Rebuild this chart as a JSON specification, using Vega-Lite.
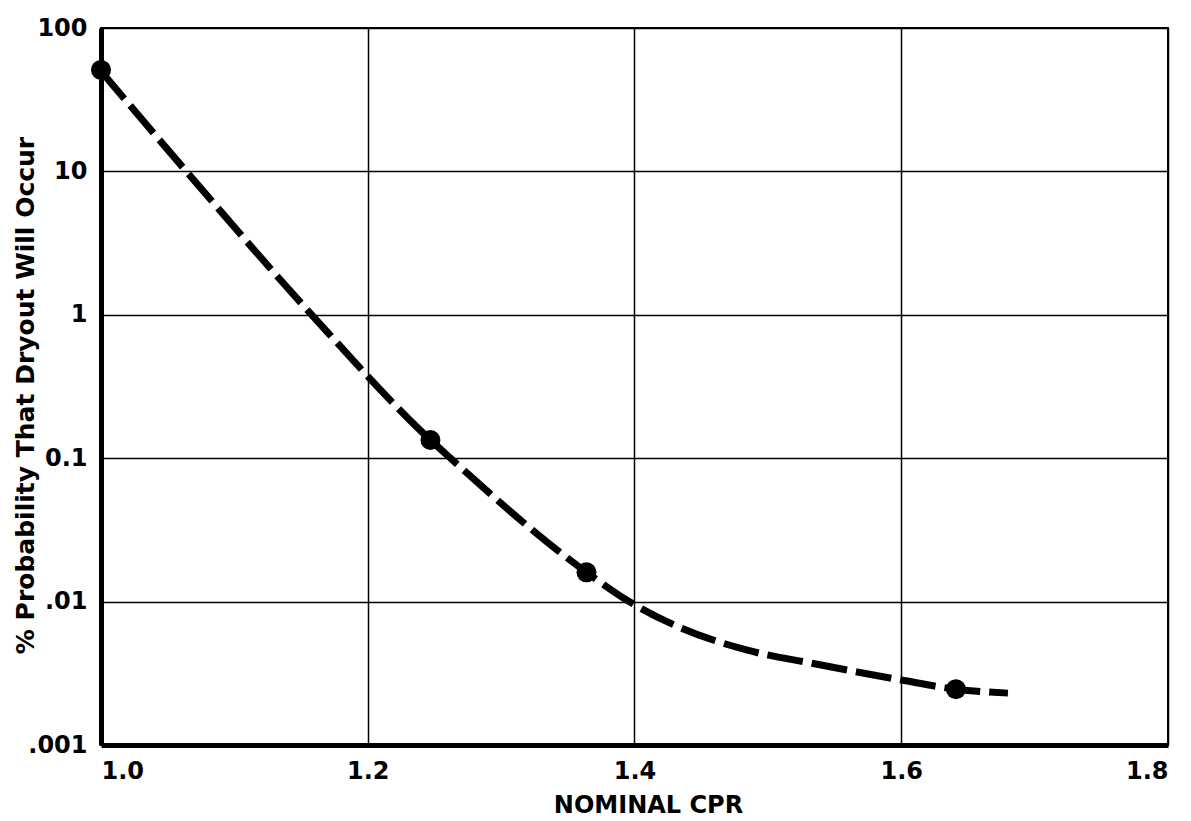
{
  "$schema": "https://vega.github.io/schema/vega-lite/v6.json",
  "width": 1067,
  "height": 717,
  "autosize": {"type": "none"},
  "padding": {"left": 101, "top": 28, "right": 23, "bottom": 76},
  "background": "white",
  "config": {
    "view": {"stroke": "black", "strokeWidth": 2},
    "font": "DejaVu Sans",
    "axis": {
      "labelFont": "DejaVu Sans",
      "labelFontWeight": "bold",
      "labelFontSize": 24,
      "labelColor": "black",
      "titleFont": "DejaVu Sans",
      "titleFontWeight": "bold",
      "titleColor": "black",
      "gridColor": "black",
      "gridOpacity": 1,
      "gridWidth": 1.5,
      "domainColor": "black",
      "domainWidth": 5,
      "ticks": false,
      "labelPadding": 14
    }
  },
  "datasets": {
    "curve": [
      {"cpr": 1.0, "p": 50},
      {"cpr": 1.064, "p": 10},
      {"cpr": 1.158, "p": 1},
      {"cpr": 1.247, "p": 0.134},
      {"cpr": 1.262, "p": 0.1},
      {"cpr": 1.364, "p": 0.016},
      {"cpr": 1.396, "p": 0.01},
      {"cpr": 1.434, "p": 0.0066},
      {"cpr": 1.484, "p": 0.0046},
      {"cpr": 1.534, "p": 0.0037},
      {"cpr": 1.6, "p": 0.00284},
      {"cpr": 1.641, "p": 0.00245},
      {"cpr": 1.68, "p": 0.0023}
    ],
    "points": [
      {"cpr": 1.0, "p": 51},
      {"cpr": 1.247, "p": 0.134},
      {"cpr": 1.364, "p": 0.016},
      {"cpr": 1.641, "p": 0.00245}
    ]
  },
  "layer": [
    {
      "data": {"name": "curve"},
      "mark": {"type": "line", "color": "black", "strokeWidth": 7, "strokeDash": [36, 9], "interpolate": "monotone", "clip": true},
      "encoding": {
        "x": {
          "field": "cpr", "type": "quantitative",
          "scale": {"domain": [1.0, 1.8], "nice": false, "zero": false},
          "axis": {
            "values": [1.0, 1.2, 1.4, 1.6, 1.8],
            "format": ".1f",
            "title": "NOMINAL CPR",
            "titleFontSize": 24,
            "titlePadding": 10,
            "titleX": 547,
            "grid": true
          }
        },
        "y": {
          "field": "p", "type": "quantitative",
          "scale": {"type": "log", "domain": [0.001, 100], "nice": false},
          "axis": {
            "values": [0.001, 0.01, 0.1, 1, 10, 100],
            "labelExpr": "datum.value == 0.001 ? '.001' : datum.value == 0.01 ? '.01' : datum.value == 0.1 ? '0.1' : format(datum.value, 'd')",
            "title": "% Probability That Dryout Will Occur",
            "titleFontSize": 25,
            "titleX": -68,
            "titleY": 367,
            "titleBaseline": "alphabetic",
            "grid": true
          }
        }
      }
    },
    {
      "data": {"name": "points"},
      "mark": {"type": "point", "filled": true, "color": "black", "opacity": 1, "size": 400, "shape": "circle"},
      "encoding": {
        "x": {"field": "cpr", "type": "quantitative"},
        "y": {"field": "p", "type": "quantitative"}
      }
    }
  ]
}
